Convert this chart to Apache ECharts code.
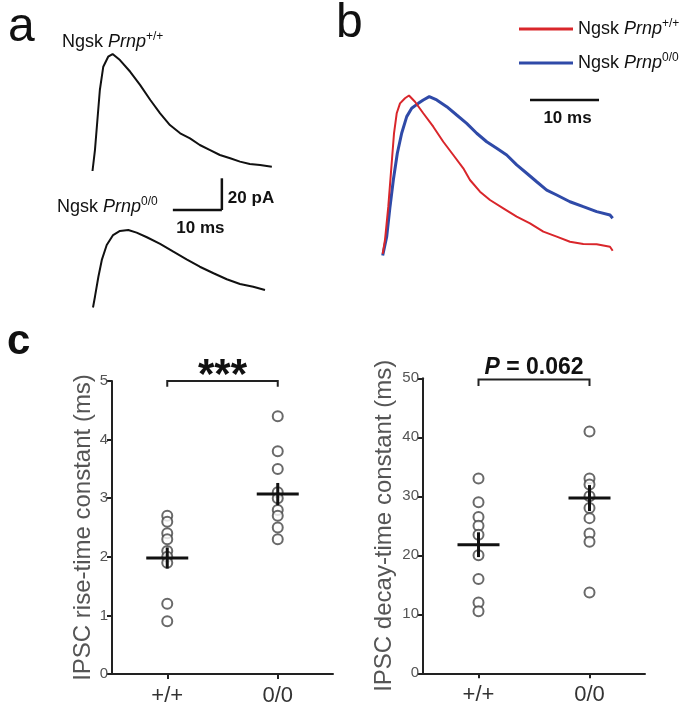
<!DOCTYPE html>
<html><head><meta charset="utf-8">
<script src="https://cdn.jsdelivr.net/npm/echarts@6/dist/echarts.min.js"></script>
<style>html,body{margin:0;padding:0;background:#fff}#chart{width:685px;height:708px}</style>
</head><body><div id="chart"></div>
<script>
const F = '"Liberation Sans", Arial, Helvetica, sans-serif';

// ---- Panel a: representative IPSC traces (time ms, current pA)
const aWtTime    = [0,0.5,1.0,1.5,2.2,3.2,4.1,5.6,7.7,9.7,11.8,13.8,15.8,17.9,19.9,21.9,24.0,26.0,28.1,30.1,32.1,34.2,36.6];
const aWtCurrent = [0,13.2,32.2,51.1,65.8,72.1,73.8,70.0,62.6,54.3,44.8,36.4,29.0,23.8,20.6,16.4,13.2,10.1,8.0,5.9,4.4,3.8,2.7];
const aKoTime    = [0,0.4,1.1,1.8,2.8,4.1,5.5,7.2,8.9,11.0,13.7,16.4,19.1,21.8,24.6,27.3,30.0,32.7,35.1];
const aKoCurrent = [0,6.8,19.4,30.0,39.4,45.7,48.3,48.9,47.2,44.3,40.1,35.2,30.4,25.7,21.6,17.8,14.8,13.1,11.0];

// ---- Panel b: normalised, overlaid traces
const bWtTime = [0,0.33,0.81,1.30,1.64,2.03,2.51,3.23,3.81,4.68,5.88,7.33,8.78,10.23,11.68,12.65,14.10,15.55,17.48,19.42,21.35,23.28,25.22,27.14,29.07,31.01,32.94,33.33];
const bWtNorm = [0.01,0.097,0.305,0.576,0.764,0.889,0.951,0.983,1.0,0.961,0.889,0.805,0.711,0.628,0.545,0.472,0.399,0.347,0.295,0.243,0.201,0.149,0.118,0.086,0.072,0.070,0.055,0.030];
const bKoTime = [0,0.58,1.06,1.54,2.12,2.75,3.48,4.20,5.16,5.88,6.75,7.83,9.28,10.72,12.17,13.62,15.07,16.52,17.97,19.42,20.87,22.32,23.77,25.22,27.14,29.07,31.01,32.94,33.33];
const bKoNorm = [0,0.118,0.305,0.472,0.639,0.764,0.868,0.920,0.951,0.972,0.993,0.972,0.930,0.878,0.826,0.764,0.711,0.670,0.628,0.566,0.514,0.461,0.409,0.378,0.336,0.305,0.274,0.253,0.233];

// ---- Panel c: IPSC kinetics
const genotypes = ['+/+', '0/0'];
const riseWt = [2.7, 2.6, 2.4, 2.3, 2.1, 2.0, 1.9, 1.2, 0.9];
const riseKo = [4.4, 3.8, 3.5, 3.1, 3.0, 2.8, 2.7, 2.5, 2.3];
const riseMean = [1.98, 3.07];
const riseSem = [0.18, 0.19];
const decayWt = [33, 29, 26.5, 25, 23.5, 20, 16, 12, 10.5];
const decayKo = [41, 33, 32, 30, 28, 26.3, 23.7, 22.3, 13.7];
const decayMean = [21.8, 29.7];
const decaySem = [2.1, 2.2];
const riseTicks = [0, 1, 2, 3, 4, 5];
const decayTicks = [0, 10, 20, 30, 40, 50];

const zip = (a, b) => a.map((v, i) => [v, b[i]]);

const supRich = {
  n: {fontSize: 18, fontFamily: F, fill: '#111', lineHeight: 22},
  i: {fontSize: 18, fontFamily: F, fontStyle: 'italic', fill: '#111', lineHeight: 22},
  s: {fontSize: 12, fontFamily: F, fill: '#111', padding: [0, 0, 10, 0]}
};

function scaleBar(params, api) {
  const x0 = api.value(0), y0 = api.value(1), dx = api.value(2), dy = api.value(3);
  const p0 = api.coord([x0, y0]), p1 = api.coord([x0 + dx, y0]), p2 = api.coord([x0 + dx, y0 + dy]);
  const ch = [{type: 'line', shape: {x1: p0[0], y1: p0[1], x2: p1[0], y2: p1[1]}, style: {stroke: '#111', lineWidth: 2.5}},
    {type: 'text', style: {text: dx + ' ms', x: (p0[0] + p1[0]) / 2 + 3, y: p0[1] + 18, textAlign: 'center', textVerticalAlign: 'middle', font: 'bold 17px ' + F, fill: '#111'}}];
  if (dy) {
    ch.push({type: 'line', shape: {x1: p1[0], y1: p1[1], x2: p2[0], y2: p2[1]}, style: {stroke: '#111', lineWidth: 2.5}});
    ch.push({type: 'text', style: {text: dy + ' pA', x: p1[0] + 6, y: (p1[1] + p2[1]) / 2 + 4, textAlign: 'left', textVerticalAlign: 'middle', font: 'bold 17px ' + F, fill: '#111'}});
  }
  return {type: 'group', children: ch};
}

function meanSem(params, api) {
  const x = api.value(0), m = api.value(1), s = api.value(2);
  const c = api.coord([x, m]), hi = api.coord([x, m + s]), lo = api.coord([x, m - s]);
  const hw = 21;
  return {type: 'group', children: [
    {type: 'line', shape: {x1: c[0] - hw, y1: c[1], x2: c[0] + hw, y2: c[1]}, style: {stroke: '#111', lineWidth: 3}},
    {type: 'line', shape: {x1: c[0], y1: hi[1], x2: c[0], y2: lo[1]}, style: {stroke: '#111', lineWidth: 3}}
  ]};
}

function bracket(label, rich, font, dy) {
  return function (params, api) {
    const yb = api.value(2), yt = api.value(3);
    const a = api.coord([api.value(0), yb]), b = api.coord([api.value(1), yb]);
    const at = api.coord([api.value(0), yt]);
    const txt = {text: label, x: (a[0] + b[0]) / 2, y: a[1] + dy, textAlign: 'center', textVerticalAlign: 'middle', font: font, fill: '#111'};
    if (rich) txt.rich = rich;
    return {type: 'group', children: [
      {type: 'polyline', shape: {points: [[a[0], at[1]], [a[0], a[1]], [b[0], b[1]], [b[0], at[1]]]}, style: {stroke: '#222', lineWidth: 2, fill: null}},
      {type: 'text', style: txt}
    ]};
  };
}

const hiddenAxis = (gi, min, max) => ({gridIndex: gi, type: 'value', min: min, max: max, show: false, splitLine: {show: false}});

function catAxis(gi) {
  return {gridIndex: gi, type: 'category', data: genotypes, boundaryGap: true,
    axisLine: {show: true, lineStyle: {color: '#222', width: 2}},
    axisTick: {show: true, alignWithLabel: true, length: 5, lineStyle: {color: '#222', width: 2}},
    axisLabel: {fontSize: 22, color: '#333', fontFamily: F, margin: 11}};
}
function valAxis(gi, ticks, name, gap) {
  return {gridIndex: gi, type: 'value', min: ticks[0], max: ticks[ticks.length - 1], interval: ticks[1] - ticks[0],
    name: name, nameLocation: 'middle', nameGap: gap, nameRotate: 90,
    nameTextStyle: {fontSize: 24, color: '#555', fontFamily: F},
    axisLine: {show: true, lineStyle: {color: '#222', width: 2}},
    axisTick: {show: true, length: 5, lineStyle: {color: '#222', width: 2}},
    axisLabel: {fontSize: 15, color: '#555', fontFamily: F, margin: 4},
    splitLine: {show: false}};
}

const circle = {color: '#fff', borderColor: '#444', borderWidth: 2};

const option = {
  backgroundColor: '#fff',
  animation: false,
  textStyle: {fontFamily: F},
  grid: [
    {left: 82.7, top: 44.2, width: 205.8, height: 174.35},
    {left: 83.2, top: 220.3, width: 205.8, height: 95.1},
    {left: 368.9, top: 79.5, width: 262.2, height: 192},
    {left: 112, top: 381, width: 221, height: 293},
    {left: 423, top: 378.3, width: 222, height: 295}
  ],
  xAxis: [hiddenAxis(0, -2, 40), hiddenAxis(1, -2, 40), hiddenAxis(2, -2, 36), catAxis(3), catAxis(4)],
  yAxis: [hiddenAxis(0, -30, 80), hiddenAxis(1, -5, 55), hiddenAxis(2, -0.1, 1.1),
    valAxis(3, riseTicks, 'IPSC rise-time constant (ms)', 17),
    valAxis(4, decayTicks, 'IPSC decay-time constant (ms)', 27)],
  legend: {
    left: 514, top: 13, orient: 'vertical', itemWidth: 54, itemHeight: 3, itemGap: 14, icon: 'rect',
    data: ['Ngsk Prnp+/+', 'Ngsk Prnp0/0'],
    formatter: n => n === 'Ngsk Prnp+/+' ? '{n|Ngsk }{i|Prnp}{s|+/+}' : '{n|Ngsk }{i|Prnp}{s|0/0}',
    textStyle: {rich: {
      n: {fontSize: 18, fontFamily: F, color: '#111', lineHeight: 22},
      i: {fontSize: 18, fontFamily: F, fontStyle: 'italic', color: '#111', lineHeight: 22},
      s: {fontSize: 12, fontFamily: F, color: '#111', padding: [0, 0, 10, 0]}}}
  },
  graphic: [
    {type: 'text', left: 8, top: 4, style: {text: 'a', font: '48px ' + F, fill: '#111'}},
    {type: 'text', left: 336, top: 0, style: {text: 'b', font: '48px ' + F, fill: '#111'}},
    {type: 'text', left: 7, top: 321, style: {text: 'c', font: 'bold 42px ' + F, fill: '#111'}},
    {type: 'text', left: 62, top: 31, style: {text: '{n|Ngsk }{i|Prnp}{s|+/+}', rich: supRich}},
    {type: 'text', left: 57, top: 196, style: {text: '{n|Ngsk }{i|Prnp}{s|0/0}', rich: supRich}}
  ],
  series: [
    {type: 'line', xAxisIndex: 0, yAxisIndex: 0, data: zip(aWtTime, aWtCurrent), symbol: 'none', lineStyle: {color: '#111', width: 2}},
    {type: 'line', xAxisIndex: 1, yAxisIndex: 1, data: zip(aKoTime, aKoCurrent), symbol: 'none', lineStyle: {color: '#111', width: 2}},
    {type: 'custom', xAxisIndex: 0, yAxisIndex: 0, renderItem: scaleBar, data: [[16.4, -24.6, 10, 20]], clip: false},
    {name: 'Ngsk Prnp0/0', type: 'line', xAxisIndex: 2, yAxisIndex: 2, data: zip(bKoTime, bKoNorm), symbol: 'none', color: '#2f4aa8', lineStyle: {color: '#2f4aa8', width: 3}},
    {name: 'Ngsk Prnp+/+', type: 'line', xAxisIndex: 2, yAxisIndex: 2, data: zip(bWtTime, bWtNorm), symbol: 'none', color: '#d9262b', lineStyle: {color: '#d9262b', width: 2}},
    {type: 'custom', xAxisIndex: 2, yAxisIndex: 2, renderItem: scaleBar, data: [[21.35, 0.972, 10, 0]], clip: false},
    {type: 'scatter', xAxisIndex: 3, yAxisIndex: 3, data: riseWt.map(v => [0, v]), symbol: 'circle', symbolSize: 10, itemStyle: circle},
    {type: 'scatter', xAxisIndex: 3, yAxisIndex: 3, data: riseKo.map(v => [1, v]), symbol: 'circle', symbolSize: 10, itemStyle: circle},
    {type: 'custom', xAxisIndex: 3, yAxisIndex: 3, renderItem: meanSem, data: genotypes.map((g, i) => [i, riseMean[i], riseSem[i]]), z: 5},
    {type: 'custom', xAxisIndex: 3, yAxisIndex: 3, renderItem: bracket('***', null, 'bold 42px ' + F, -5), data: [[0, 1, 5.0, 4.9]], clip: false},
    {type: 'scatter', xAxisIndex: 4, yAxisIndex: 4, data: decayWt.map(v => [0, v]), symbol: 'circle', symbolSize: 10, itemStyle: circle},
    {type: 'scatter', xAxisIndex: 4, yAxisIndex: 4, data: decayKo.map(v => [1, v]), symbol: 'circle', symbolSize: 10, itemStyle: circle},
    {type: 'custom', xAxisIndex: 4, yAxisIndex: 4, renderItem: meanSem, data: genotypes.map((g, i) => [i, decayMean[i], decaySem[i]]), z: 5},
    {type: 'custom', xAxisIndex: 4, yAxisIndex: 4, renderItem: bracket('{p|P}{r| = 0.062}', {
        p: {fontSize: 23, fontWeight: 'bold', fontStyle: 'italic', fontFamily: F, fill: '#111'},
        r: {fontSize: 23, fontWeight: 'bold', fontFamily: F, fill: '#111'}}, 'bold 23px ' + F, -12),
      data: [[0, 1, 49.8, 48.7]], clip: false}
  ]
};

const chart = echarts.init(document.getElementById('chart'), null, {renderer: 'canvas'});
chart.setOption(option);
</script>
</body></html>
